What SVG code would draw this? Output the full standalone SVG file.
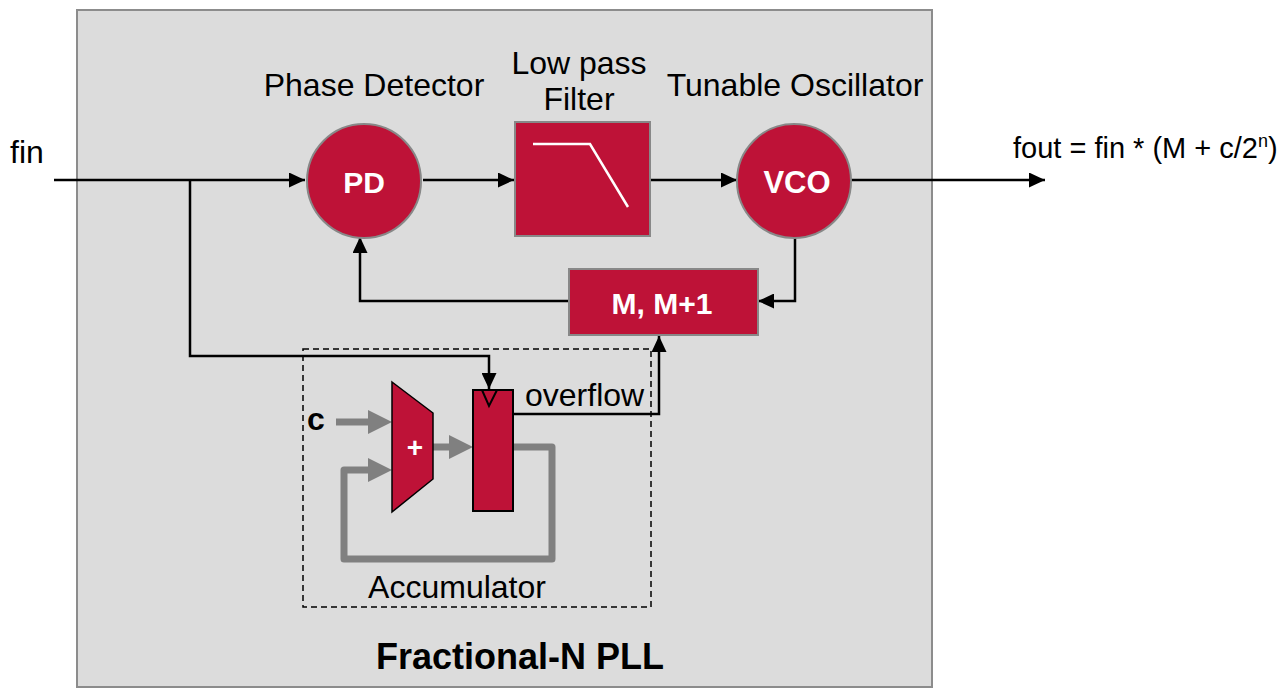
<svg xmlns="http://www.w3.org/2000/svg" width="1281" height="688" viewBox="0 0 1281 688">
<style>
.t{font-family:"Liberation Sans",Arial,sans-serif;font-size:32px;fill:#000}
.b{font-family:"Liberation Sans",Arial,sans-serif;font-weight:bold;fill:#fff;text-anchor:middle}
.red{fill:#BE1237;stroke:#888;stroke-width:2}
.w{stroke:#000;stroke-width:2.5;fill:none}
.g{stroke:#808080;stroke-width:7;fill:none;stroke-linejoin:round}
</style>
<defs>
<marker id="ah" markerUnits="userSpaceOnUse" markerWidth="16" markerHeight="15" refX="16" refY="7.5" orient="auto"><path d="M0,0 L16,7.5 L0,15 z" fill="#000"/></marker>
<marker id="gh" markerUnits="userSpaceOnUse" markerWidth="24" markerHeight="24" refX="12" refY="12" orient="auto"><path d="M0,0 L24,12 L0,24 z" fill="#808080"/></marker>
</defs>
<rect x="0" y="0" width="1281" height="688" fill="#fff"/>
<g id="pll-frame">
<rect x="77" y="10" width="855" height="677" fill="#DCDCDC" stroke="#8c8c8c" stroke-width="2"/>
<text class="t" x="520" y="669" text-anchor="middle" style="font-weight:bold;font-size:36px">Fractional-N PLL</text>
</g>
<g id="accumulator">
<rect x="303" y="349" width="348" height="258" fill="none" stroke="#000" stroke-width="1.5" stroke-dasharray="6,4"/>
<text class="t" x="457" y="598" text-anchor="middle">Accumulator</text>
</g>
<g id="labels">
<text class="t" x="10" y="163">fin</text>
<text class="t" x="374" y="96" text-anchor="middle">Phase Detector</text>
<text class="t" x="579" y="74" text-anchor="middle">Low pass</text>
<text class="t" x="579" y="110" text-anchor="middle">Filter</text>
<text class="t" x="795" y="96" text-anchor="middle">Tunable Oscillator</text>
<text class="t" x="1013" y="158" style="font-size:29px">fout = fin * (M + c/2<tspan dy="-11" style="font-size:18px">n</tspan><tspan dy="11">)</tspan></text>
</g>
<g id="connectors">
<path class="w" d="M54,180 H305" marker-end="url(#ah)"/>
<path class="w" d="M190,180 V356 H489 V389" marker-end="url(#ah)"/>
<path class="w" d="M423,180 H514" marker-end="url(#ah)"/>
<path class="w" d="M650,180 H737" marker-end="url(#ah)"/>
<path class="w" d="M851,180 H1045" marker-end="url(#ah)"/>
<path class="w" d="M795,237 V301 H758" marker-end="url(#ah)"/>
<path class="w" d="M569,301 H360 V237" marker-end="url(#ah)"/>
<path class="w" d="M513,414 H659 V336" marker-end="url(#ah)"/>
<path class="g" d="M336,422 H380" marker-end="url(#gh)"/>
<path class="g" d="M433,447 H461" marker-end="url(#gh)"/>
<path class="g" d="M513,447 H552 V559 H344 V470 H380" marker-end="url(#gh)"/>
</g>
<g id="pd">
<circle class="red" cx="364" cy="181" r="57"/>
<text class="b" x="364" y="193" font-size="30">PD</text>
</g>
<g id="lpf">
<rect class="red" x="515" y="122" width="135" height="114"/>
<polyline points="533,144 590,144 628,207" fill="none" stroke="#fff" stroke-width="2.5"/>
</g>
<g id="vco">
<circle class="red" cx="794" cy="181" r="57"/>
<text class="b" x="797" y="193" font-size="31">VCO</text>
</g>
<g id="divider">
<rect class="red" x="569" y="269" width="189" height="66"/>
<text class="b" x="662" y="314" font-size="30">M, M+1</text>
</g>
<g id="adder">
<polygon points="392,382 433,413 433,479 392,512" fill="#BE1237" stroke="#000" stroke-width="1.5"/>
<text class="b" x="415" y="457" font-size="28">+</text>
<text class="t" x="307" y="430" style="font-weight:bold">c</text>
</g>
<g id="register">
<rect x="473" y="390" width="40" height="121" fill="#BE1237" stroke="#000" stroke-width="2"/>
<polyline points="482,390 489,406 497,390" fill="none" stroke="#000" stroke-width="2"/>
<text class="t" x="525" y="406">overflow</text>
</g>
</svg>
